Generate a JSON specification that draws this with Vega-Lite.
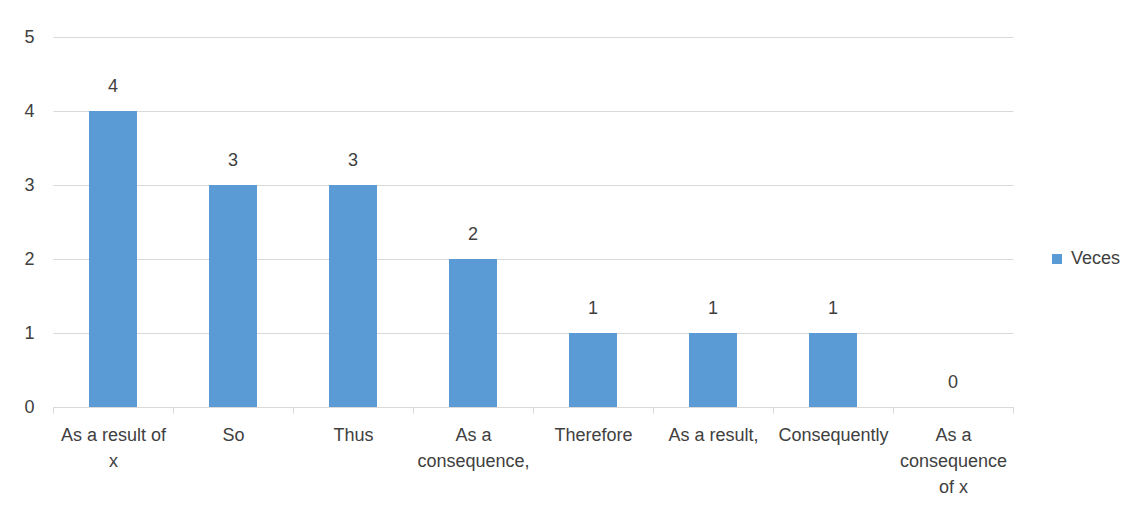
{
  "$schema": "https://vega.github.io/schema/vega-lite/v6.json",
  "width": 960,
  "height": 370,
  "autosize": {"type": "none"},
  "padding": {"left": 53, "top": 37, "right": 112, "bottom": 99},
  "background": "white",
  "config": {
    "view": {"stroke": null},
    "font": "Liberation Sans",
    "text": {"font": "Liberation Sans"}
  },
  "data": {
    "values": [
      {"cat": "As a result of|x", "v": 4},
      {"cat": "So", "v": 3},
      {"cat": "Thus", "v": 3},
      {"cat": "As a|consequence,", "v": 2},
      {"cat": "Therefore", "v": 1},
      {"cat": "As a result,", "v": 1},
      {"cat": "Consequently", "v": 1},
      {"cat": "As a|consequence|of x", "v": 0}
    ]
  },
  "encoding": {
    "x": {
      "field": "cat",
      "type": "nominal",
      "sort": null,
      "scale": {"paddingInner": 0, "paddingOuter": 0},
      "axis": {
        "title": null,
        "labelAngle": 0,
        "labelExpr": "split(datum.label, '|')",
        "labelFont": "Liberation Sans",
        "labelFontSize": 18,
        "labelColor": "#404040",
        "labelLineHeight": 26,
        "labelBaseline": "top",
        "labelPadding": 13,
        "labelLimit": 0,
        "labelOverlap": false,
        "domainColor": "#d9d9d9",
        "tickColor": "#d9d9d9",
        "tickBand": "extent",
        "tickSize": 6,
        "grid": false
      }
    },
    "y": {
      "field": "v",
      "type": "quantitative",
      "scale": {"domain": [0, 5], "nice": false},
      "axis": {
        "title": null,
        "values": [0, 1, 2, 3, 4, 5],
        "labelOverlap": false,
        "labelFont": "Liberation Sans",
        "labelFontSize": 18,
        "labelColor": "#404040",
        "labelPadding": 19,
        "ticks": false,
        "domain": false,
        "gridColor": "#d9d9d9"
      }
    }
  },
  "layer": [
    {
      "mark": {"type": "bar", "width": {"band": 0.4}},
      "encoding": {
        "color": {
          "datum": "Veces",
          "type": "nominal",
          "scale": {"range": ["#5b9bd5"]},
          "legend": {
            "title": null,
            "orient": "none",
            "legendX": 995,
            "legendY": 213,
            "symbolType": "square",
            "symbolSize": 100,
            "symbolStrokeWidth": 0,
            "labelFont": "Liberation Sans",
            "labelFontSize": 18,
            "labelColor": "#404040",
            "labelOffset": 5
          }
        }
      }
    },
    {
      "mark": {"type": "text", "dy": -24, "fontSize": 18, "color": "#404040", "font": "Liberation Sans"},
      "encoding": {"text": {"field": "v", "type": "quantitative"}}
    }
  ]
}
